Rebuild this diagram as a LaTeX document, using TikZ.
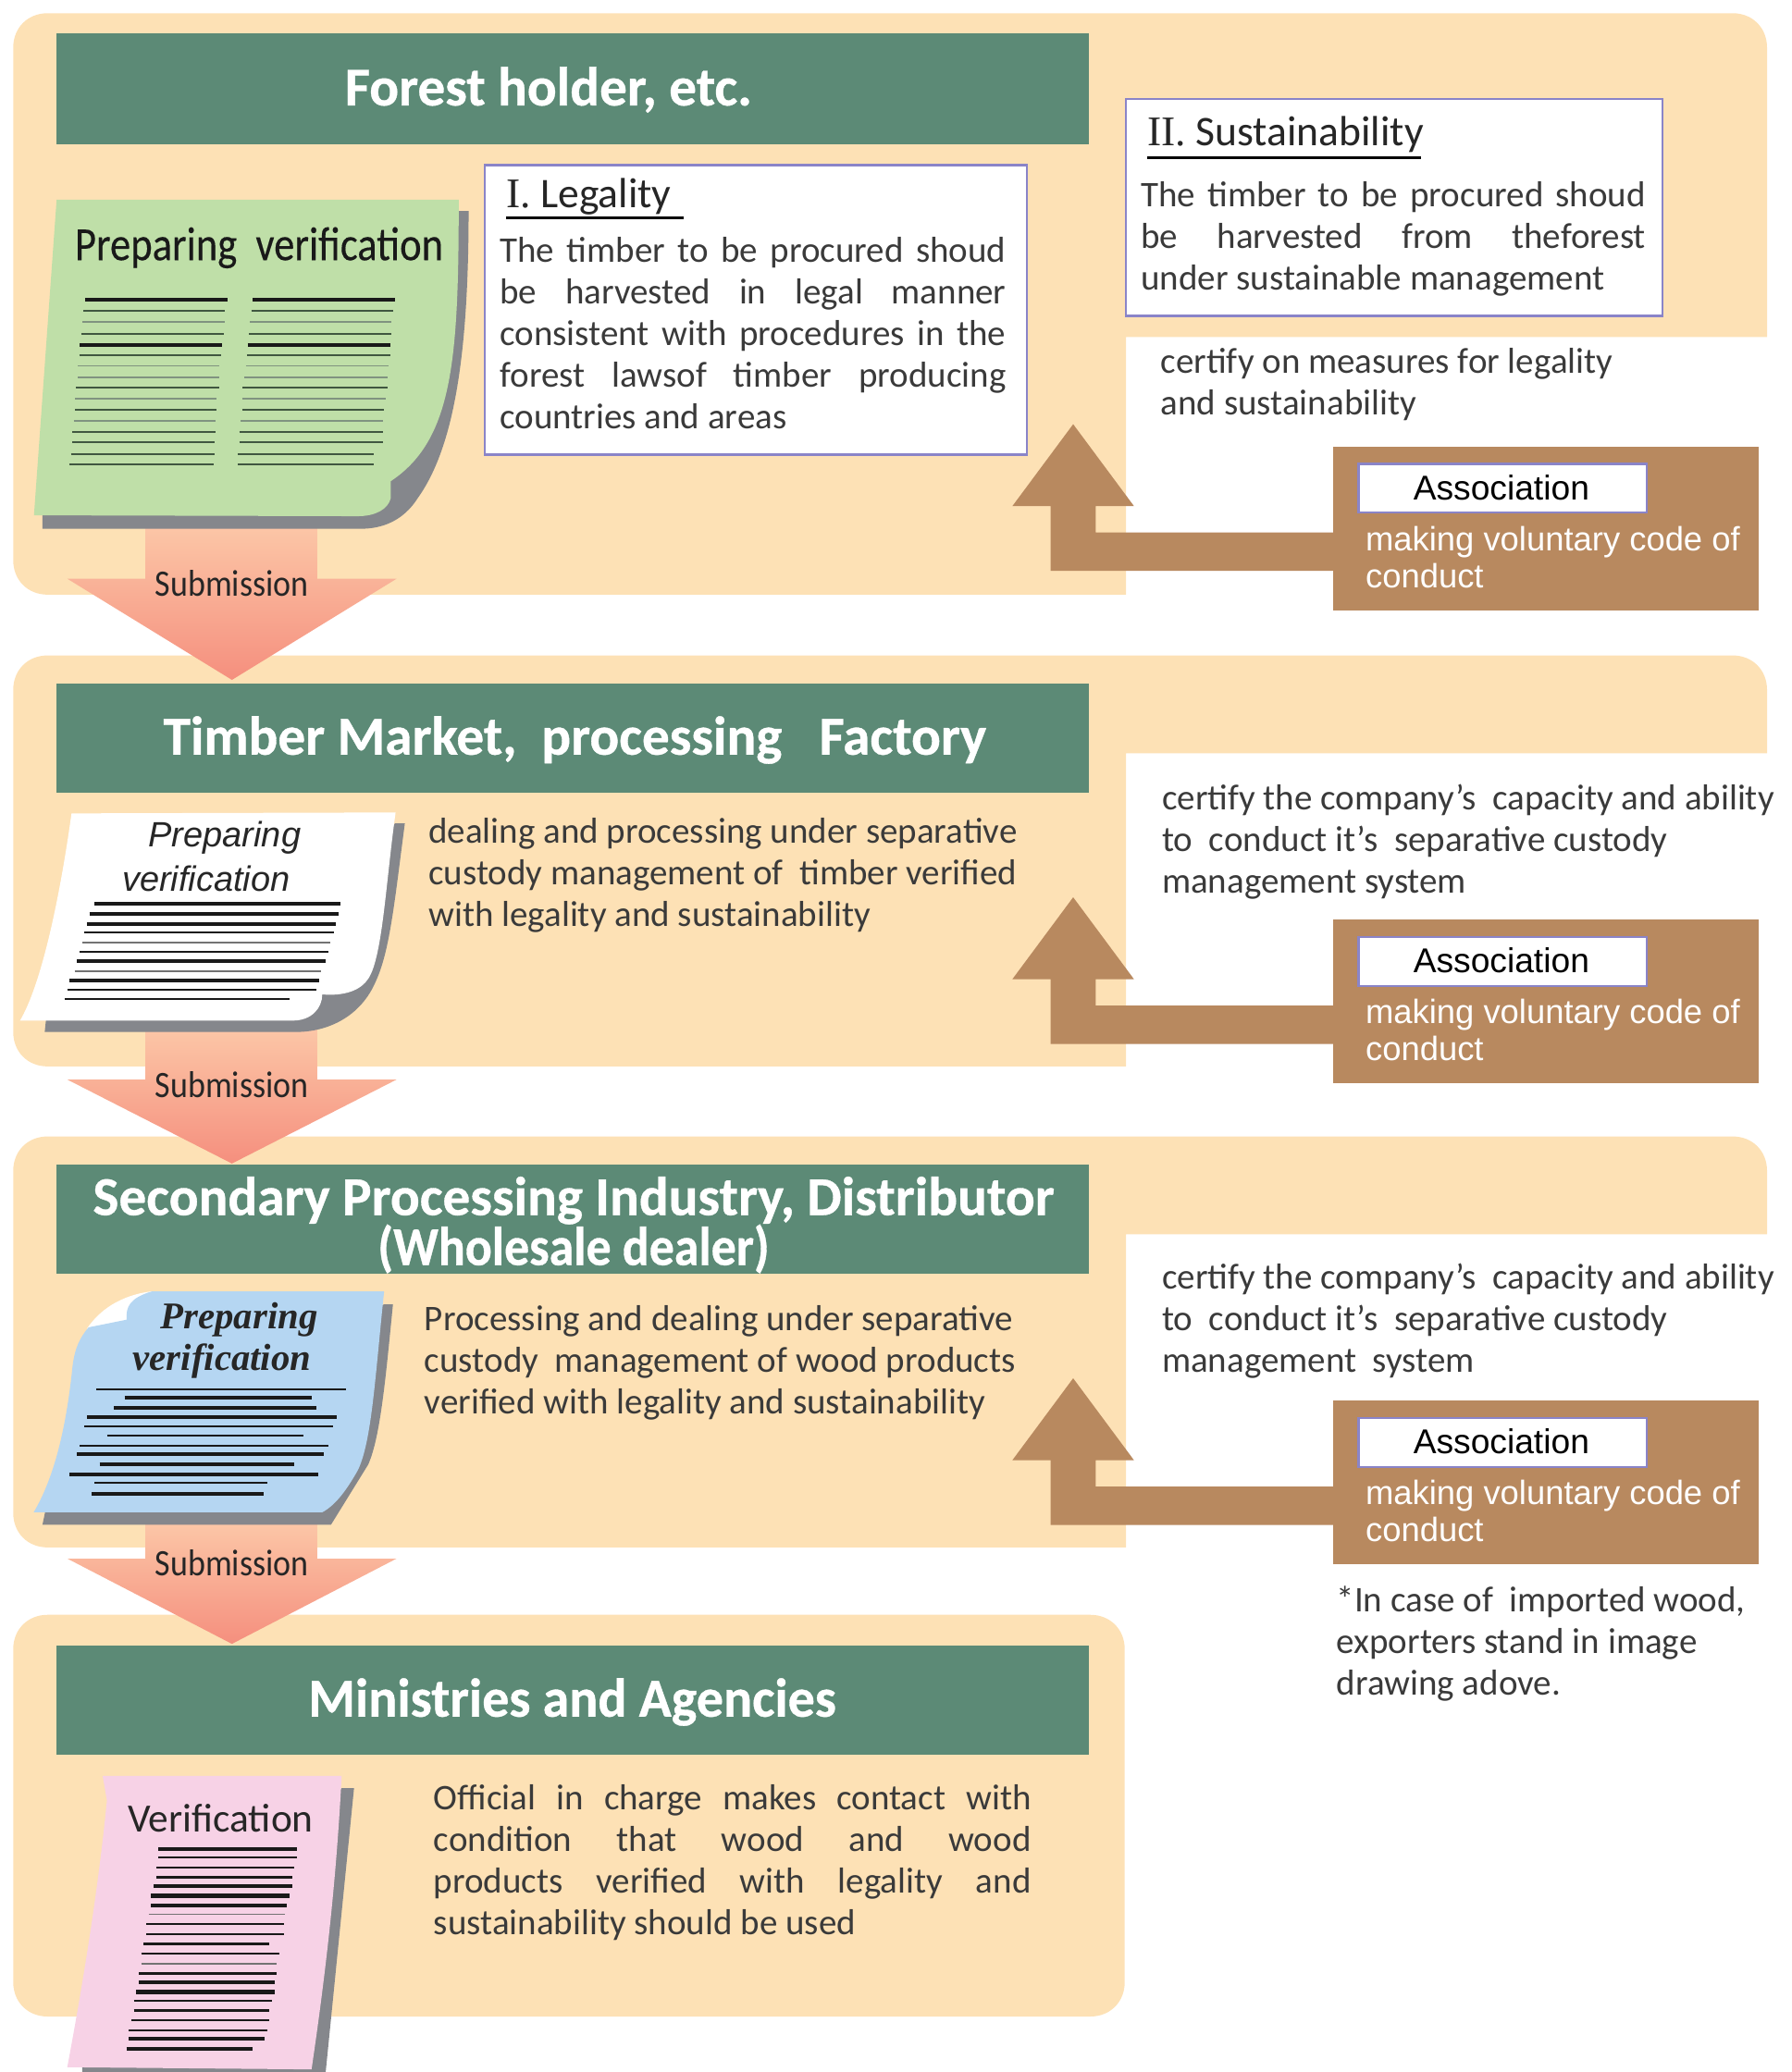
\documentclass[tikz,border=0pt]{standalone}
\usepackage{fontspec}
\setmainfont{Carlito}
\newfontfamily\arialf{Liberation Sans}
\newfontfamily\timesf{Liberation Serif}
\newfontfamily\heavyf[FakeBold=0.6]{Carlito Bold}
\newfontfamily\semif[FakeBold=0.25]{Carlito}
\definecolor{panelc}{HTML}{FDE1B5}
\definecolor{hdrc}{HTML}{5C8A76}
\definecolor{brownc}{HTML}{B8895F}
\definecolor{edgec}{HTML}{8A84C8}
\definecolor{shadowc}{HTML}{85878C}
\definecolor{bodyc}{HTML}{3A3A3A}
\definecolor{subtop}{HTML}{FCC8A8}
\definecolor{submid}{HTML}{F7A08C}
\definecolor{subbot}{HTML}{F58F7E}
\definecolor{greenpage}{HTML}{BFDFA8}
\definecolor{bluepage}{HTML}{B5D6F2}
\definecolor{pinkpage}{HTML}{F7D2E6}
\tikzset{
  panelfill/.style={fill=panelc},
  hdrfill/.style={fill=hdrc},
  hdrtext/.style={inner sep=0pt,text=white,align=center,font=\heavyf\fontsize{29.6}{27}\selectfont},
  body/.style={anchor=north west,inner sep=0pt,text=bodyc,align=left,font=\fontsize{19.5}{22.5}\selectfont},
  bodyj/.style={body,align=justify,text width=#1*0.71429pt},
  headingtext/.style={anchor=base west,inner sep=0pt,text=black!85,font=\fontsize{22.8}{24}\selectfont},
  framed/.style={fill=white,draw=edgec,line width=1.1pt},
  subarrow/.style={top color=subtop,middle color=submid,bottom color=subbot},
  subtext/.style={inner sep=0pt,text=black!85,font=\fontsize{18}{22}\selectfont},
  pageshadow/.style={fill=shadowc},
  tk/.style={line width=2.1pt,black!90},
  md/.style={line width=1.15pt,black!90},
  tn/.style={line width=0.85pt,black!55},
  gtk/.style={line width=1.9pt,black!90},
  gmd/.style={line width=1pt,green!12!black!75},
  gtn/.style={line width=0.9pt,green!15!black!50},
  asctitle/.style={inner sep=0pt,text=black,font=\arialf\fontsize{18.6}{22}\selectfont},
  asctext/.style={anchor=north west,inner sep=0pt,text=white,align=left,font=\arialf\fontsize{18.2}{20}\selectfont},
}
\newcommand{\panelshape}[3]{%
  \fill[panelfill] (10,#1+26) .. controls (10,#1+11) and (21,#1) .. (36,#1)
    -- (1311,#1) .. controls (1326,#1) and (1337,#1+11) .. (1337,#1+26)
    -- (1337,#2) -- (852,#2) -- (852,#3) -- (36,#3)
    .. controls (21,#3) and (10,#3-11) .. (10,#3-26) -- cycle;}
\newcommand{\subshape}[3]{%
  \path[subarrow] (110,#1) -- (240,#1) -- (240,#2) -- (300,#2) -- (175.5,#3) -- (51,#2) -- (110,#2) -- cycle;
  \node[subtext] (sub#1) at (175.5,#2+3.5) {\scalebox{1}[1.12]{Submission}};}
\newcommand{\assocblock}[2]{%
  \fill[brownc] (1009,338+#1) rectangle (1331,462+#1);
  \fill[brownc] (812,321+#1) -- (858,383+#1) -- (829,383+#1) -- (829,403+#1) -- (1009,403+#1)
    -- (1009,432+#1) -- (795,432+#1) -- (795,383+#1) -- (766,383+#1) -- cycle;
  \draw[framed] (1028,351+#1) rectangle (1246,388+#1);
  \node[asctitle] (asc#2) at (1136,369+#1) {Association};
  \node[asctext] (code#2) at (1033,398+#1) {making voluntary code of\\conduct};}
\begin{document}
\begin{tikzpicture}[x=0.71429pt,y=-0.71429pt]
\useasboundingbox (0,0) rectangle (1355.2,1568);
% panels
\panelshape{10}{255}{450}
\panelshape{496}{570}{807}
\panelshape{860}{934}{1171}
\fill[panelfill] (10,1248) .. controls (10,1233) and (21,1222) .. (36,1222) -- (825,1222)
  .. controls (840,1222) and (851,1233) .. (851,1248) -- (851,1500)
  .. controls (851,1515) and (840,1526) .. (825,1526) -- (36,1526)
  .. controls (21,1526) and (10,1515) .. (10,1500) -- cycle;
% submission arrows
\subshape{395}{438}{514.5}
\subshape{775}{817}{880.5}
\subshape{1150}{1179.5}{1244}
% headers
\fill[hdrfill] (43,25) rectangle (824,109);
\fill[hdrfill] (43,517) rectangle (824,600);
\fill[hdrfill] (43,881) rectangle (824,964);
\fill[hdrfill] (43,1245) rectangle (824,1328);
\node[hdrtext] (h1) at (415,68) {Forest holder, etc.};
\node[hdrtext] (h2) at (435,560) {Timber Market,~ processing~~ Factory};
\node[hdrtext] (h3) at (434,927) {Secondary Processing Industry, Distributor\\\scalebox{0.91}[1]{(Wholesale dealer)}};
\node[hdrtext] (h4) at (433,1288) {\scalebox{0.98}[1]{Ministries and Agencies}};
% legality box
\draw[framed] (367,125) rectangle (777,344);
\node[headingtext] (lg) at (383,157) {{\timesf I.} Legality};
\draw[line width=1.5pt,black] (383,165) -- (517,165);
\node[bodyj=383] (lgt) at (378,179.5) {The timber to be procured shoud\linebreak be harvested in legal manner\linebreak consistent with procedures in the\linebreak forest lawsof timber producing\linebreak countries and areas};
% sustainability box
\draw[framed] (852,75) rectangle (1258,239);
\node[headingtext] (su) at (868,110) {{\timesf II.} Sustainability};
\draw[line width=1.5pt,black] (868,119) -- (1075,119);
\node[bodyj=382] (sut) at (863,137.5) {The timber to be procured shoud\linebreak be harvested from theforest\linebreak under sustainable management};
% green page
\begin{scope}[xscale=1/1.867,yscale=1/2.944]
\path[pageshadow] (648,470) -- (662,470) .. controls (662,800) and (640,1000) .. (590,1110)
  .. controls (570,1160) and (540,1178) .. (510,1178) -- (60,1178) -- (60,1140) -- cycle;
\fill[greenpage] (80,445) -- (648,445) .. controls (648,800) and (640,980) .. (552,1072)
  -- (552,1110) .. controls (548,1135) and (530,1150) .. (505,1150) -- (48,1148) -- cycle;
\foreach \y/\a/\b/\c/\d/\s in {668/120/322/357/558/gtk,692/118/318/355/555/gmd,717/116/318/353/553/gtn,743/115/316/352/553/gmd,768/113/314/350/551/gtk,792/112/312/349/551/gmd,815/110/310/347/549/gtn,840/110/310/345/547/gtn,864/107/310/343/547/gmd,889/106/306/342/545/gtn,913/106/306/342/543/gmd,938/104/304/340/541/gtn,963/102/304/338/541/gmd,985/102/303/338/541/gmd,1012/100/303/336/528/gmd,1035/98/302/336/528/gmd}
  {\draw[\s] (\a,\y) -- (\b,\y); \draw[\s] (\c,\y) -- (\d,\y);}
\end{scope}
\node[inner sep=0pt,text=black!90,font=\semif\fontsize{23}{24}\selectfont] (pv1) at (196,187.5) {\scalebox{0.97}[1.12]{Preparing~ verification}};
% white page
\begin{scope}[shift={(0,588)},xscale=1/4.286,yscale=1/4.286]
\path[pageshadow] (1283,150) -- (1313,150) .. controls (1280,400) and (1265,560) .. (1220,660)
  .. controls (1170,780) and (1060,827) .. (960,827) -- (145,827) -- (150,780) -- cycle;
\fill[white] (232,118) -- (1283,115) .. controls (1250,350) and (1240,600) .. (1190,660)
  .. controls (1160,700) and (1100,710) .. (1045,705) .. controls (1045,750) and (1010,790) .. (950,790)
  -- (65,790) .. controls (130,680) and (190,420) .. (232,118) -- cycle;
\foreach \y/\a/\b/\s in {412/307/1105/tk,445/290/1098/tk,477/282/1090/tk,505/274/1082/md,537/267/1070/tn,568/258/1065/md,597/250/1057/tk,630/242/1042/tn,660/226/1034/tk,689/218/1026/md,720/210/938/md}
  {\draw[\s] (\a,\y) -- (\b,\y);}
\end{scope}
\node[inner sep=0pt,text=black!85,font=\arialf\itshape\fontsize{19}{20}\selectfont] (pv2a) at (170,634) {Preparing};
\node[inner sep=0pt,text=black!85,font=\arialf\itshape\fontsize{19}{20}\selectfont] (pv2b) at (156,665) {verification};
% blue page
\begin{scope}[shift={(0,924)},xscale=1/3.733,yscale=1/4.286]
\path[pageshadow] (1085,270) -- (1110,270) .. controls (1090,500) and (1075,700) .. (1040,790)
  -- (935,985) -- (120,985) -- (130,930) -- cycle;
\fill[white] (430,228) .. controls (340,240) and (280,290) .. (245,350) -- (365,330) -- cycle;
\fill[bluepage] (430,228) -- (1085,228) .. controls (1060,500) and (1050,720) .. (1010,810)
  .. controls (980,870) and (950,920) .. (910,945) -- (95,945) .. controls (160,820) and (190,640) .. (205,470)
  .. controls (212,410) and (225,380) .. (250,345) -- (358,320) .. controls (355,280) and (365,250) .. (430,228) -- cycle;
\foreach \y/\a/\b/\s in {545/273/977/md,573/352/880/tk,605/322/893/tk,637/246/950/tk,665/238/942/md,697/302/858/md,729/225/928/md,757/218/914/tk,789/281/830/tk,821/197/900/tk,849/267/754/md,885/259/746/tk}
  {\draw[\s] (\a,\y) -- (\b,\y);}
\end{scope}
\node[inner sep=0pt,text=black!85,font=\timesf\bfseries\itshape\fontsize{20.4}{20}\selectfont] (pv3a) at (181,999) {Preparing};
\node[inner sep=0pt,text=black!85,font=\timesf\bfseries\itshape\fontsize{20.4}{20}\selectfont] (pv3b) at (168,1030) {verification};
% pink page
\begin{scope}[shift={(0,1259.9)},xscale=1/3.733,yscale=1/4.286]
\path[pageshadow] (965,400) -- (1000,400) -- (920,1320) -- (232,1320) -- (232,1290) -- cycle;
\fill[pinkpage] (290,360) -- (965,360) .. controls (950,700) and (920,1000) .. (880,1312) -- (190,1305)
  .. controls (240,1000) and (280,700) .. (302,440) -- cycle;
\foreach \y/\a/\b/\s in {597/447/838/tk,625/447/838/md,657/441/831/md,689/441/825/md,717/434/825/tk,749/427/817/tk,781/427/810/tk,809/420/806/tn,841/413/803/md,873/413/803/md,905/406/761/md,937/399/789/md,969/399/782/tn,1001/392/782/md,1029/392/775/tk,1061/385/775/tk,1089/378/768/md,1121/378/761/md,1153/371/761/md,1185/364/754/md,1213/364/747/tk,1245/357/713/tk}
  {\draw[\s] (\a,\y) -- (\b,\y);}
\end{scope}
\node[inner sep=0pt,text=black!85,font=\fontsize{21.7}{24}\selectfont] (ver) at (167,1376) {Verification};
% descriptions
\node[body] (c1) at (878,263) {certify on measures for legality\\and sustainability};
\node[body] (d2) at (324,619) {dealing and processing under separative\\custody management of~ timber verified\\with legality and sustainability};
\node[body] (c2) at (879,593) {certify the company's~ capacity and ability\\to~ conduct it's~ separative custody\\management system};
\node[body] (d3) at (321,988) {Processing and dealing under separative\\custody~ management of wood products\\verified with legality and sustainability};
\node[body] (c3) at (879,956) {certify the company's~ capacity and ability\\to~ conduct it's~ separative custody\\management~ system};
\node[body] (note) at (1011,1200) {*In case of~ imported wood,\\exporters stand in image\\drawing adove.};
\node[bodyj=452] (d4) at (328,1350) {Official in charge makes contact with\linebreak condition that wood and wood\linebreak products verified with legality and\linebreak sustainability should be used};
% associations
\assocblock{0}{1}
\assocblock{358}{2}
\assocblock{722}{3}
\end{tikzpicture}
\end{document}
